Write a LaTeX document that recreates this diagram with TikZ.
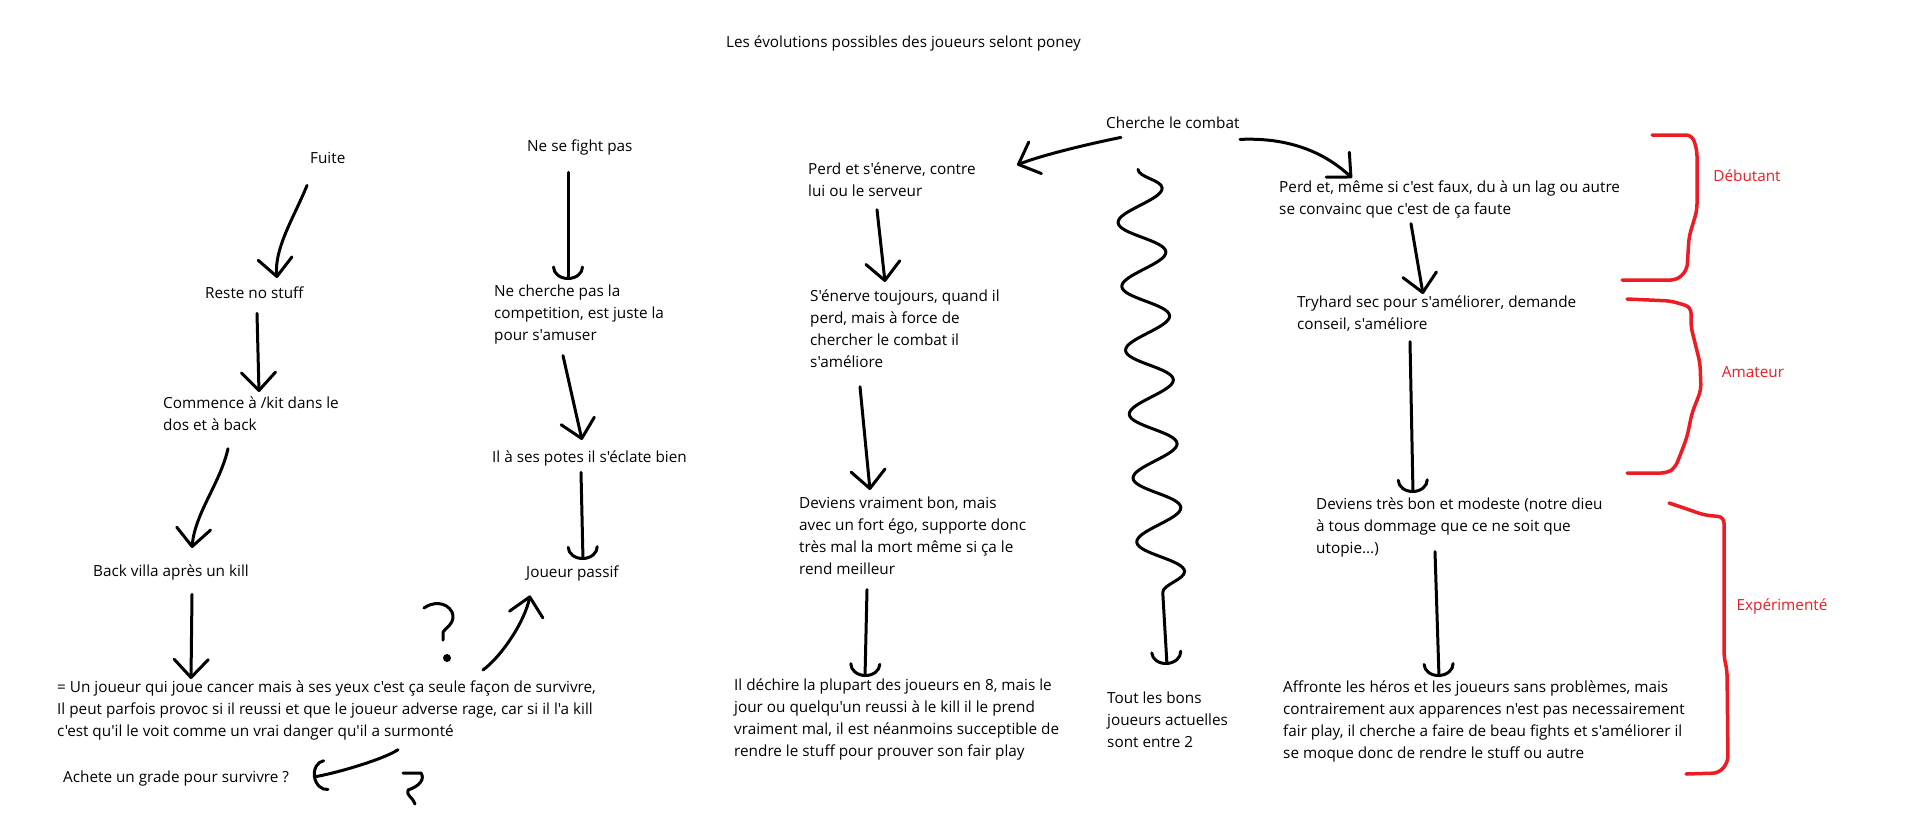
\documentclass[tikz,border=0pt]{standalone}
\usepackage{fontspec}
\setmainfont{Open Sans}[Ligatures=TeXOff]
\usetikzlibrary{arrows.meta,decorations.pathmorphing}
\definecolor{paintred}{RGB}{237,28,36}
\newcommand{\txtfont}{\fontsize{15.3}{22}\selectfont}

\tikzset{
  txt/.style={align=left, inner sep=0pt, anchor=north west, font=\txtfont,
    execute at begin node=\strut, execute at end node=\strut},
  lvl/.style={txt, anchor=center, text=paintred},
  arr/.style={line width=3pt, line cap=round,
    -{Straight Barb[length=18pt, width=34pt, round]}},
  arru/.style={line width=3pt, line cap=round,
    -{Arc Barb[length=13pt, width=32pt, round]}},
  wavy/.style={arru, decorate,
    decoration={snake, amplitude=23pt, segment length=64pt, post length=42pt}},
  brace/.style={paintred, line width=3.5pt, line cap=round, rounded corners=6pt},
  pen/.style={line width=3pt, line cap=round, line join=round},
}

\begin{document}
\begin{tikzpicture}[x=1pt, y=-1pt]
  \path[use as bounding box, fill=white] (0,0) rectangle (1914,827);

  \node[txt] (titre) at (726,32) {Les évolutions possibles des joueurs selont poney};

  %% fuite
  \node[txt] (fuite) at (310,148) {Fuite};
  \node[txt] (reste) at (205,283) {Reste no stuff};
  \node[txt] (commence) at (163,397) {Commence à /kit dans le\\dos et à back};
  \node[txt] (back) at (93,561) {Back villa après un kill};
  \node[txt] (joueur) at (57,681) {= Un joueur qui joue cancer mais à ses yeux c'est ça seule façon de survivre,\\Il peut parfois provoc si il reussi et que le joueur adverse rage, car si il l'a kill\\c'est qu'il le voit comme un vrai danger qu'il a surmonté};
  \node[txt] (achete) at (63,767) {Achete un grade pour survivre ?};

  %% ne se fight pas
  \node[txt] (nefight) at (527,136) {Ne se fight pas};
  \node[txt] (necherche) at (494,285) {Ne cherche pas la\\competition, est juste la\\pour s'amuser};
  \node[txt] (potes) at (492,447) {Il à ses potes il s'éclate bien};
  \node[txt] (passif) at (526,562) {Joueur passif};

  %% cherche le combat
  \node[txt] (cherche) at (1106,113) {Cherche le combat};
  \node[txt] (perdA) at (808,163) {Perd et s'énerve, contre\\lui ou le serveur};
  \node[txt] (enerve) at (810,290) {S'énerve toujours, quand il\\perd, mais à force de\\chercher le combat il\\s'améliore};
  \node[txt] (vraiment) at (799,497) {Deviens vraiment bon, mais\\avec un fort égo, supporte donc\\très mal la mort même si ça le\\rend meilleur};
  \node[txt] (dechire) at (734,679) {Il déchire la plupart des joueurs en 8, mais le\\jour ou quelqu'un reussi à le kill il le prend\\vraiment mal, il est néanmoins succeptible de\\rendre le stuff pour prouver son fair play};
  \node[txt] (bons) at (1107,692) {Tout les bons\\joueurs actuelles\\sont entre 2};
  \node[txt] (perdB) at (1279,181) {Perd et, même si c'est faux, du à un lag ou autre\\se convainc que c'est de ça faute};
  \node[txt] (tryhard) at (1297,296) {Tryhard sec pour s'améliorer, demande\\conseil, s'améliore};
  \node[txt] (modeste) at (1316,498) {Deviens très bon et modeste (notre dieu\\à tous dommage que ce ne soit que\\utopie...)};
  \node[txt] (affronte) at (1283,681) {Affronte les héros et les joueurs sans problèmes, mais\\contrairement aux apparences n'est pas necessairement\\fair play, il cherche a faire de beau fights et s'améliorer il\\se moque donc de rendre le stuff ou autre};

  %% niveaux
  \node[lvl] (debutant) at (1747,177) {Débutant};
  \node[lvl] (amateur) at (1753,373) {Amateur};
  \node[lvl] (experimente) at (1782,606) {Expérimenté};

  %% fleches colonne 1
  \draw[arr] ([shift={(-3,15)}]fuite.south west) .. controls +(-12,30) and +(-3,-30) .. ([shift={(72,-5)}]reste.north west); %% fuite->reste
  \draw[arr] ([shift={(52,8)}]reste.south west) -- ([shift={(96,-5)}]commence.north west); %% reste->commence
  \draw[arr] ([shift={(65,11)}]commence.south west) .. controls +(-8,35) and +(3,-35) .. ([shift={(99,-13)}]back.north west); %% commence->back
  \draw[arr] ([shift={(99,11)}]back.south west) -- ([shift={(134,-2)}]joueur.north west); %% back->joueur
  \draw[arr] ([shift={(426,-11)}]joueur.north west) .. controls +(20,-15) and +(-5,25) .. ([shift={(4,11)}]passif.south west); %% joueur->passif
  \draw[arru] ([shift={(341,6)}]joueur.south west) .. controls +(-15,10) and +(20,-3) .. ([shift={(250,10)}]achete.north west); %% joueur->achete

  %% fleches colonne 2
  \draw[arru] ([shift={(41,14)}]nefight.south west) -- ([shift={(74,-5)}]necherche.north west); %% nefight->necherche
  \draw[arr] ([shift={(69,8)}]necherche.south west) -- ([shift={(90,-7)}]potes.north west); %% necherche->potes
  \draw[arru] ([shift={(89,3)}]potes.south west) -- ([shift={(57,-2)}]passif.north west); %% potes->passif

  %% fleches colonne 3
  \draw[arr] ([shift={(15,2)}]cherche.south west) .. controls +(-30,6) and +(25,-10) .. ([shift={(209,2)}]perdA.north west); %% cherche->perdA
  \draw[arr] ([shift={(69,6)}]perdA.south west) -- ([shift={(75,-8)}]enerve.north west); %% perdA->enerve
  \draw[arr] ([shift={(50,12)}]enerve.south west) -- ([shift={(71,-7)}]vraiment.north west); %% enerve->vraiment
  \draw[arru] ([shift={(68,8)}]vraiment.south west) -- ([shift={(131,-2)}]dechire.north west); %% vraiment->dechire
  \draw[wavy] ([shift={(32,34)}]cherche.south west) -- ([shift={(60,-27)}]bons.north west); %% cherche->bons

  %% fleches colonne 4
  \draw[arr] ([shift={(134,4)}]cherche.south west) .. controls +(45,-2) and +(-30,-28) .. ([shift={(73,-3)}]perdB.north west); %% cherche->perdB
  \draw[arr] ([shift={(132,2)}]perdB.south west) -- ([shift={(126,-2)}]tryhard.north west); %% perdB->tryhard
  \draw[arru] ([shift={(113,5)}]tryhard.south west) -- ([shift={(97,-5)}]modeste.north west); %% tryhard->modeste
  \draw[arru] ([shift={(119,-9)}]modeste.south west) -- ([shift={(156,-4)}]affronte.north west); %% modeste->affronte

  %% points d'interrogation
  \draw[pen] (424,608) .. controls (432,602) and (446,601) .. (452,612) .. controls (456,622) and (447,627) .. (443,632) -- (443,640);
  \fill (447,658) circle (4);
  \draw[pen] (403,773) -- (421,773) .. controls (425,779) and (420,786) .. (408,790) .. controls (406,796) and (413,797) .. (415,804);

  %% accolades
  \draw[brace] (1652,135) -- (1692,135) -- (1697,150) -- (1697,210) -- (1689,237) -- (1687,270) -- (1677,280) -- (1622,280);
  \draw[brace] (1627,299) -- (1671,301) -- (1691,307) -- (1691,327) -- (1700,363) -- (1701,390) -- (1692,413) -- (1687,437) -- (1681,453) -- (1675,468) -- (1667,473) -- (1627,473);
  \draw[brace] (1669,503) -- (1684,508) -- (1704,515) -- (1724,517) -- (1724,657) -- (1727,670) -- (1728,762) -- (1719,773) -- (1686,774);
\end{tikzpicture}
\end{document}
